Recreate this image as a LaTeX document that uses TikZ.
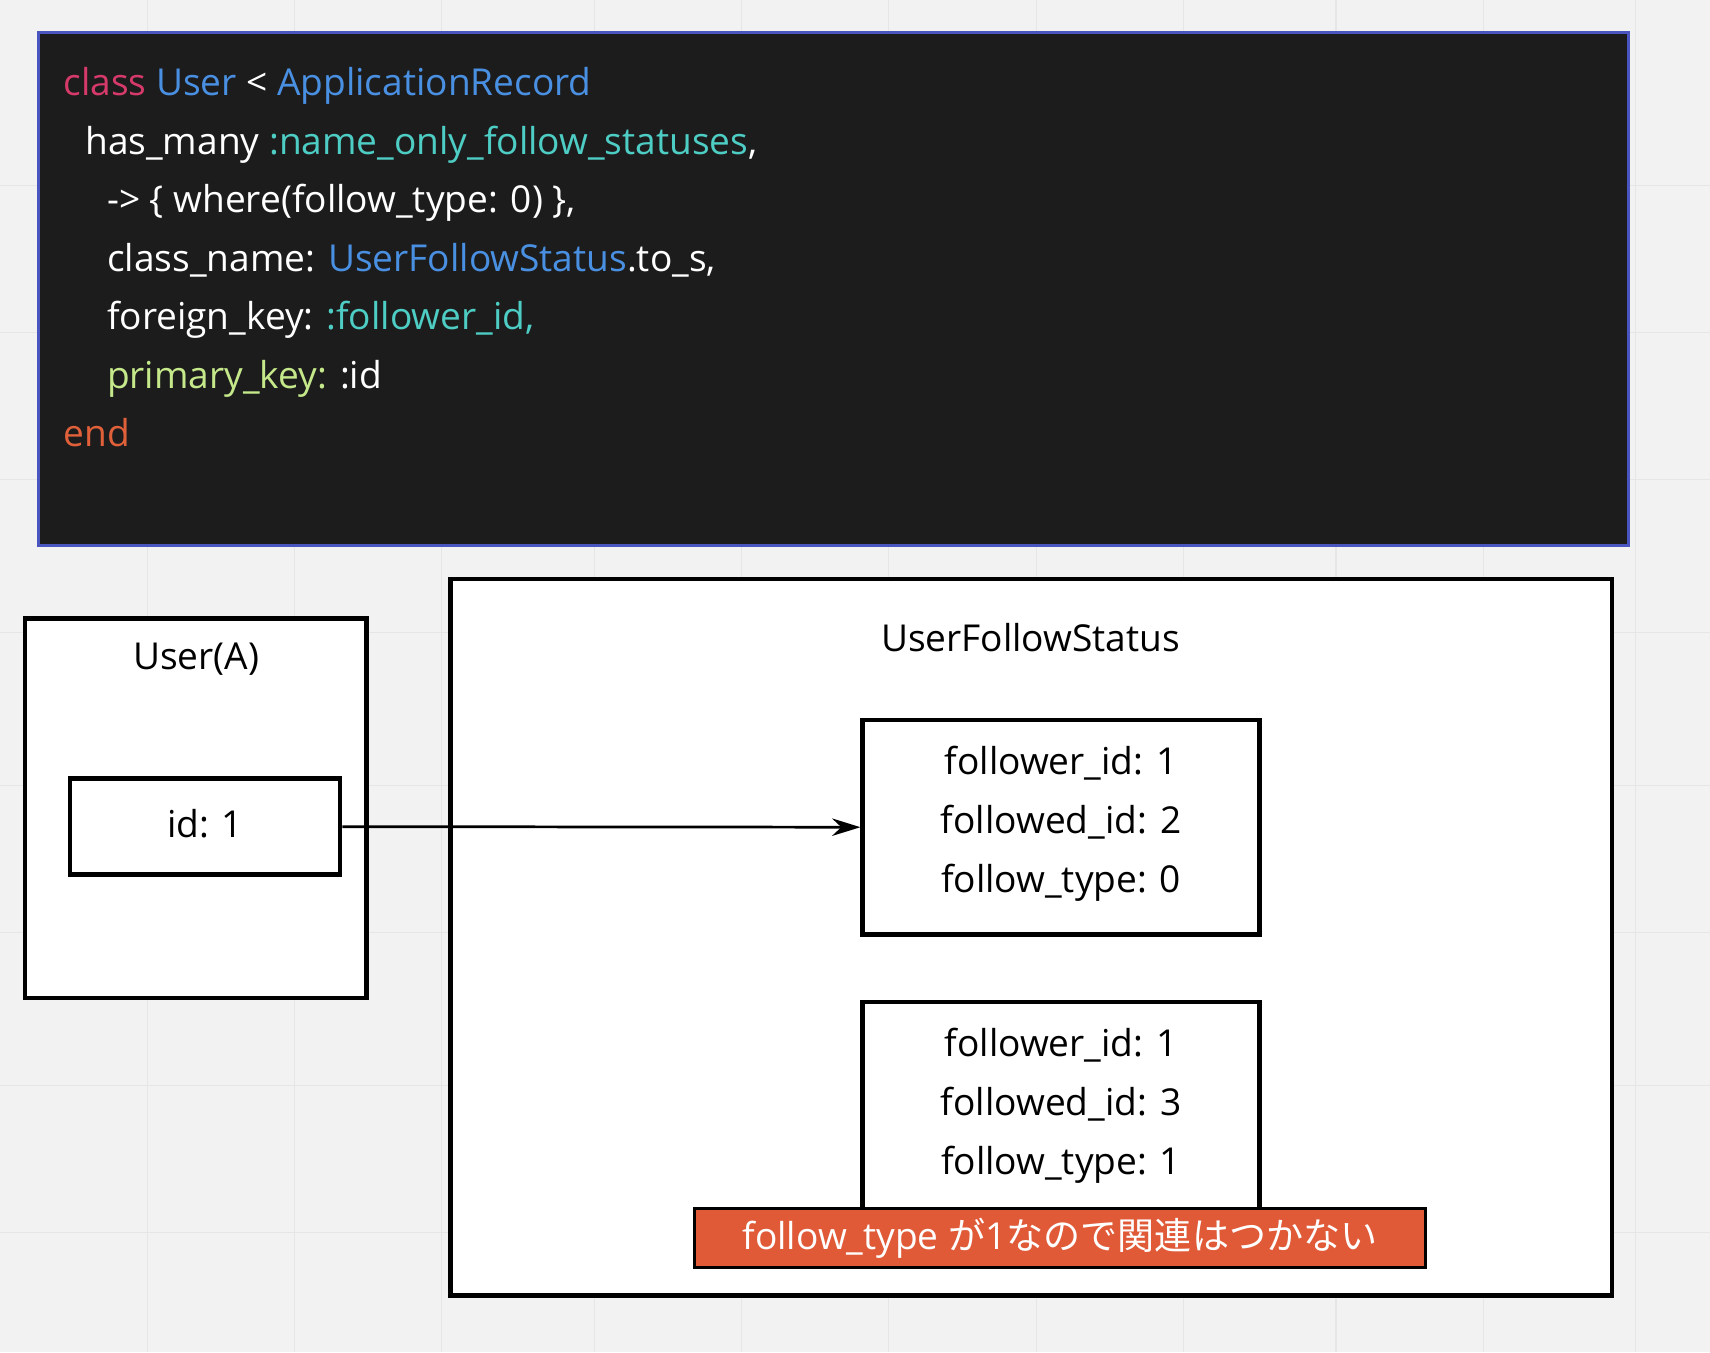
\documentclass[tikz,border=0pt]{standalone}
\usepackage{fontspec}
\setmainfont{Open Sans}
\newfontfamily\cjk{Noto Sans CJK JP}
\usetikzlibrary{arrows.meta}
\definecolor{bg}{HTML}{F2F2F2}
\definecolor{gridc}{HTML}{E6E6E6}
\definecolor{codebg}{HTML}{1C1C1C}
\definecolor{codeborder}{HTML}{4A55C0}
\definecolor{kw}{HTML}{D63A6A}
\definecolor{cls}{HTML}{4A90E2}
\definecolor{sym}{HTML}{4ECDC4}
\definecolor{pk}{HTML}{C5E88A}
\definecolor{endc}{HTML}{E0603A}
\definecolor{warn}{HTML}{E05A38}
\tikzset{
  box/.style={draw=black, line width=4pt, fill=white, inner sep=0pt},
  txt/.style={font=\fontsize{34}{40}\selectfont, inner sep=0pt},
  code/.style={font=\fontsize{34}{40}\selectfont, text=white, anchor=base west, inner sep=0pt},
}
\begin{document}
\begin{tikzpicture}[x=1pt,y=-1pt]
\fill[bg] (0,0) rectangle (1568,1240);
\useasboundingbox (0,0) rectangle (1568,1240);
\foreach \x in {135,270,405,545,680,815,950,1085,1225,1360,1500} \draw[gridc,line width=1pt] (\x,0) -- (\x,1240);
\foreach \y in {170,305,440,580,720,855,995,1130} \draw[gridc,line width=1pt] (0,\y) -- (1568,\y);
% code block
\node[draw=codeborder, fill=codebg, line width=2.5pt, minimum width=1458pt, minimum height=470pt, inner sep=0pt] (code) at (764,265) {};
\node[code] (l1) at (58,88) {\textcolor{kw}{class} \textcolor{cls}{User} < \textcolor{cls}{ApplicationRecord}};
\node[code] (l2) at (78,142) {has\_many \textcolor{sym}{:name\_only\_follow\_statuses},};
\node[code] (l3) at (98,195) {-> \{ where(follow\_type: 0) \},};
\node[code] (l4) at (98,249) {class\_name: \textcolor{cls}{UserFollowStatus}.to\_s,};
\node[code] (l5) at (98,302) {foreign\_key: \textcolor{sym}{:follower\_id,}};
\node[code] (l6) at (98,356) {\textcolor{pk}{primary\_key:} :id};
\node[code] (l7) at (58,409) {\textcolor{endc}{end}};
% User(A)
\node[box, minimum width=313pt, minimum height=348pt] (user) at (179.5,741) {};
\node[txt] (usert) at (180,604) {User(A)};
\node[box, minimum width=248pt, minimum height=88pt] (id) at (188,758) {};
\node[txt] (idt) at (188,755) {id: 1};
% UserFollowStatus
\node[box, minimum width=1065pt, minimum height=657pt] (ufs) at (945.5,859.5) {};
\node[txt] (ufst) at (945,585) {UserFollowStatus};
\node[box, minimum width=364pt, minimum height=197pt] (r1) at (973,758.5) {};
\node[txt, align=center] (r1t) at (973,755) {follower\_id: 1\\[14pt]followed\_id: 2\\[14pt]follow\_type: 0};
\node[box, minimum width=364pt, minimum height=200pt] (r2) at (973,1019) {};
\node[txt, align=center] (r2t) at (973,1014) {follower\_id: 1\\[14pt]followed\_id: 3\\[14pt]follow\_type: 1};
\node[draw=black, line width=3pt, fill=warn, minimum width=670pt, minimum height=54pt, inner sep=0pt, text=white, font=\fontsize{34}{40}\selectfont] (warn) at (972,1135) {follow\_type {\cjk が}1{\cjk なので関連はつかない}};
\draw[line width=2.5pt, -{Stealth[length=26pt,width=16pt]}] (id.east) -- (r1.west);
\end{tikzpicture}
\end{document}
